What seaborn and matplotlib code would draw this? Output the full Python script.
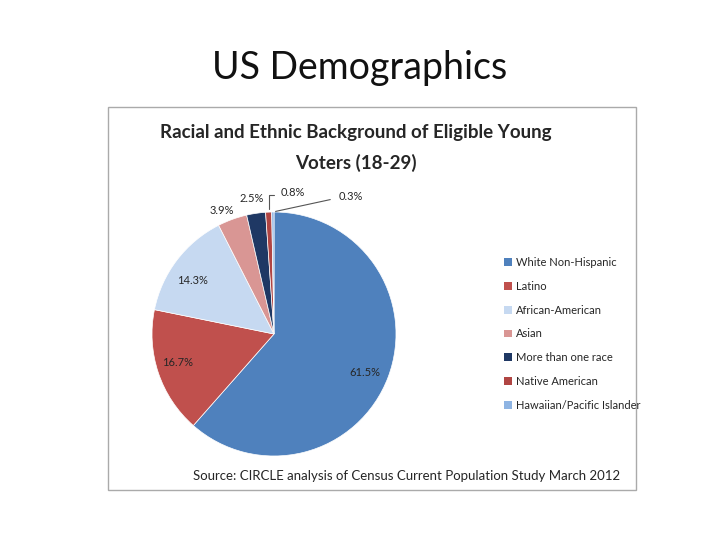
import numpy as np
import matplotlib
matplotlib.use("Agg")
import matplotlib.pyplot as plt
import seaborn as sns
from matplotlib.patches import Rectangle, Patch

sns.set_style("white")
plt.rcParams['font.family'] = ['Lato', 'Open Sans', 'DejaVu Sans']

categories = ["White Non-Hispanic", "Latino", "African-American", "Asian",
              "More than one race", "Native American", "Hawaiian/Pacific Islander"]
values = [61.5, 16.7, 14.3, 3.9, 2.5, 0.8, 0.3]
colors = ["#4F81BD", "#C0504D", "#C6D9F1", "#D99694", "#1F3864", "#B04543", "#8EB4E3"]

W, H = 720, 540
fig = plt.figure(figsize=(7.2, 5.4), dpi=100)

def fx(px): return px / W
def fy(py): return 1 - py / H

fig.text(0.5, fy(68), "US Demographics", ha='center', va='center', fontsize=27, color='#111111')
fig.patches.append(Rectangle((fx(108), fy(490)), fx(636) - fx(108), fy(107) - fy(490),
                             transform=fig.transFigure, fill=False, ec='#AAAAAA', lw=1))
fig.text(fx(356), fy(133), "Racial and Ethnic Background of Eligible Young",
         ha='center', va='center', fontsize=13.5, fontweight='bold')
fig.text(fx(356), fy(163), "Voters (18-29)", ha='center', va='center', fontsize=13.5, fontweight='bold')
fig.text(fx(407), fy(476), "Source: CIRCLE analysis of Census Current Population Study March 2012",
         ha='center', va='center', fontsize=9.5)

ax = fig.add_axes([fx(152), fy(456), 244 / W, 244 / H])
wedges, _ = ax.pie(values, colors=colors, startangle=90, counterclock=False, radius=1,
                   wedgeprops=dict(edgecolor='white', linewidth=0.5))
ax.set_xlim(-1, 1); ax.set_ylim(-1, 1); ax.set_aspect('equal'); ax.axis('off')

label_pos = [(365, 372), (178, 362), (192, 280), (222, 210), (252, 199), (293, 193), (351, 197)]
for i, (w, v) in enumerate(zip(wedges, values)):
    x, y = label_pos[i]
    fig.text(fx(x), fy(y), f"{v}%", ha='center', va='center', fontsize=8)
    if i >= 5:
        ang = np.deg2rad((w.theta1 + w.theta2) / 2)
        ax.annotate("", xy=(np.cos(ang), np.sin(ang)),
                    xytext=(fx(x - 16 if i == 5 else x - 18), fy(y + 2)),
                    textcoords='figure fraction',
                    arrowprops=dict(arrowstyle='-', color='#555555', lw=0.8,
                                    connectionstyle='angle,angleA=0,angleB=90' if i == 5 else 'arc3'))

handles = [Patch(facecolor=c, edgecolor='none') for c in colors]
fig.legend(handles, categories, loc='upper left', bbox_to_anchor=(fx(494), fy(247)),
           frameon=False, fontsize=8, labelspacing=1.15, handlelength=0.7, handleheight=0.7,
           handletextpad=0.4)

fig.savefig("out.png", dpi=100)
